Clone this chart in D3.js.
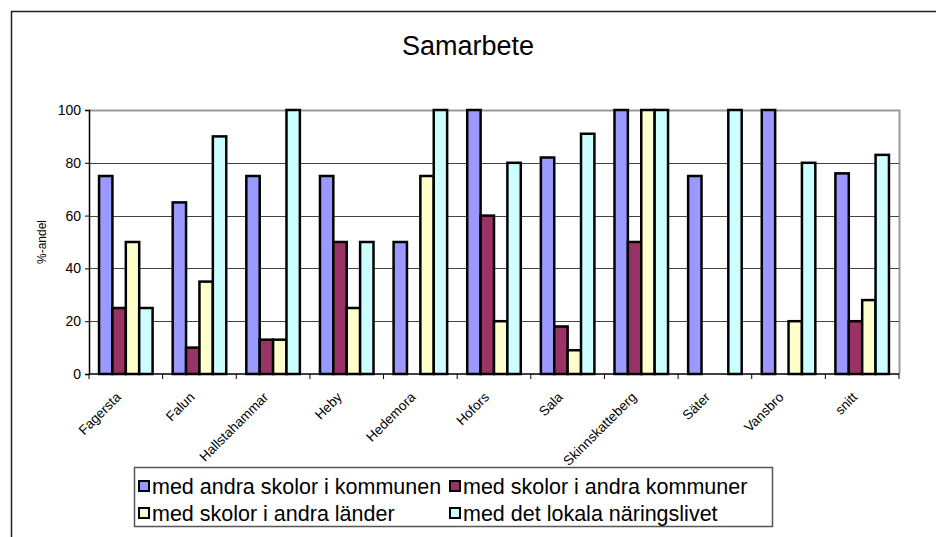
<!DOCTYPE html>
<html>
<meta charset="utf-8">
<style type="text/css">
	body { margin: 0; background: #fff; }
	text { font-family: Arial, "Liberation Sans", sans-serif; fill: #000; }
	.grid line { stroke: #444; stroke-width: 1px; }
	.bar { stroke: #000; stroke-width: 2.5px; }
</style>
<svg width="936" height="537"></svg>
<script src="https://d3js.org/d3.v7.min.js"></script>
<script>
	var categories = ['Fagersta', 'Falun', 'Hallstahammar', 'Heby', 'Hedemora', 'Hofors',
		'Sala', 'Skinnskatteberg', 'Säter', 'Vansbro', 'snitt'];

	var seriesNames = ['med andra skolor i kommunen', 'med skolor i andra kommuner',
		'med skolor i andra länder', 'med det lokala näringslivet'];

	// null = no bar
	var andraSkolorKommunen = [75, 65, 75, 75, 50, 100, 82, 100, 75, 100, 76];
	var andraKommuner = [25, 10, 13, 50, null, 60, 18, 50, null, null, 20];
	var andraLander = [50, 35, 13, 25, 75, 20, 9, 100, null, 20, 28];
	var naringslivet = [25, 90, 100, 50, 100, 80, 91, 100, 100, 80, 83];

	var yTicks = [0, 20, 40, 60, 80, 100];
	var colors = ['#9999ff', '#993366', '#ffffcc', '#ccffff'];

	var values = [andraSkolorKommunen, andraKommuner, andraLander, naringslivet];

	var svg = d3.select('svg'),
			width = +svg.attr('width'),
			height = +svg.attr('height');

	// outer chart frame (right/bottom edges fall outside the picture)
	svg.append('path')
		.attr('d', 'M11.5,' + (height + 2) + 'V11.5H' + (width + 2))
		.attr('fill', 'none')
		.attr('stroke', '#222')
		.attr('stroke-width', 1.5);

	svg.append('text')
		.attr('x', 468)
		.attr('y', 55)
		.attr('text-anchor', 'middle')
		.style('font-size', '27px')
		.text('Samarbete');

	var plot = { left: 89, right: 899, top: 110, bottom: 374 };

	var x = d3.scaleBand()
			.domain(categories)
			.range([plot.left, plot.right]);

	var x1 = d3.scaleBand()
			.domain(d3.range(seriesNames.length))
			.range([0, x.bandwidth()])
			.paddingInner(0)
			.paddingOuter(0.75);

	var y = d3.scaleLinear()
			.domain([0, 100])
			.range([plot.bottom, plot.top]);

	// plot area border (top/right grey)
	svg.append('path')
		.attr('d', 'M' + plot.left + ',' + (plot.top + 0.5) + 'H' + (plot.right + 0.5) + 'V' + plot.bottom)
		.attr('fill', 'none')
		.attr('stroke', '#999')
		.attr('stroke-width', 2);

	svg.append('g')
		.attr('class', 'grid')
		.selectAll('line')
		.data(yTicks.filter(function (d) { return d > 0 && d < 100; }))
		.enter().append('line')
			.attr('x1', plot.left)
			.attr('x2', plot.right)
			.attr('y1', function (d) { return Math.round(y(d)) + 0.5; })
			.attr('y2', function (d) { return Math.round(y(d)) + 0.5; });

	var groups = svg.append('g')
		.selectAll('g')
		.data(values)
		.enter().append('g')
			.attr('fill', function (d, i) { return colors[i]; });

	groups.each(function (vals, s) {
		d3.select(this).selectAll('rect')
			.data(vals.map(function (v, i) { return { cat: categories[i], v: v }; })
				.filter(function (d) { return d.v !== null; }))
			.enter().append('rect')
				.attr('class', 'bar')
				.attr('x', function (d) { return x(d.cat) + x1(s); })
				.attr('width', x1.bandwidth())
				.attr('y', function (d) { return y(d.v); })
				.attr('height', function (d) { return y(0) - y(d.v); });
	});

	// y axis
	var yAxis = svg.append('g')
		.attr('transform', 'translate(' + plot.left + ',0)')
		.call(d3.axisLeft(y).tickValues(yTicks).tickSize(4).tickPadding(4));
	yAxis.select('.domain').attr('stroke', '#000').attr('stroke-width', 1.5);
	yAxis.selectAll('text').style('font-size', '14px').style('font-family', 'Arial, "Liberation Sans", sans-serif');

	// x axis: line plus ticks at band boundaries
	svg.append('line')
		.attr('x1', plot.left).attr('x2', plot.right)
		.attr('y1', plot.bottom).attr('y2', plot.bottom)
		.attr('stroke', '#000').attr('stroke-width', 1.5);

	svg.append('g')
		.selectAll('line')
		.data(categories.concat(['end']))
		.enter().append('line')
			.attr('x1', function (d, i) { return plot.left + i * x.step(); })
			.attr('x2', function (d, i) { return plot.left + i * x.step(); })
			.attr('y1', plot.bottom)
			.attr('y2', plot.bottom + 5)
			.attr('stroke', '#000');

	svg.append('g')
		.selectAll('text')
		.data(categories)
		.enter().append('text')
			.attr('text-anchor', 'end')
			.attr('transform', function (d) {
				return 'translate(' + (x(d) + x.bandwidth() / 2 - 4) + ',' + 398 + ') rotate(-45)';
			})
			.style('font-size', '13.5px')
			.text(function (d) { return d; });

	svg.append('text')
		.attr('transform', 'translate(46,' + ((plot.top + plot.bottom) / 2) + ') rotate(-90)')
		.attr('text-anchor', 'middle')
		.style('font-size', '12px')
		.text('%-andel');

	// legend
	var legend = svg.append('g');
	legend.append('rect')
		.attr('x', 134.5).attr('y', 467.5)
		.attr('width', 638).attr('height', 59)
		.attr('fill', '#fff')
		.attr('stroke', '#555')
		.attr('stroke-width', 1.5);

	var legendPos = [[139, 494], [450, 494], [139, 521], [450, 521]];

	var item = legend.selectAll('.item')
		.data(seriesNames)
		.enter().append('g')
			.attr('class', 'item')
			.attr('transform', function (d, i) { return 'translate(' + legendPos[i][0] + ',' + legendPos[i][1] + ')'; });

	item.append('rect')
		.attr('x', 0).attr('y', -13)
		.attr('width', 10).attr('height', 10)
		.attr('fill', function (d, i) { return colors[i]; })
		.attr('stroke', '#000')
		.attr('stroke-width', 2);

	item.append('text')
		.attr('x', 13)
		.style('font-size', '21.5px')
		.text(function (d) { return d; });
</script>
</html>
